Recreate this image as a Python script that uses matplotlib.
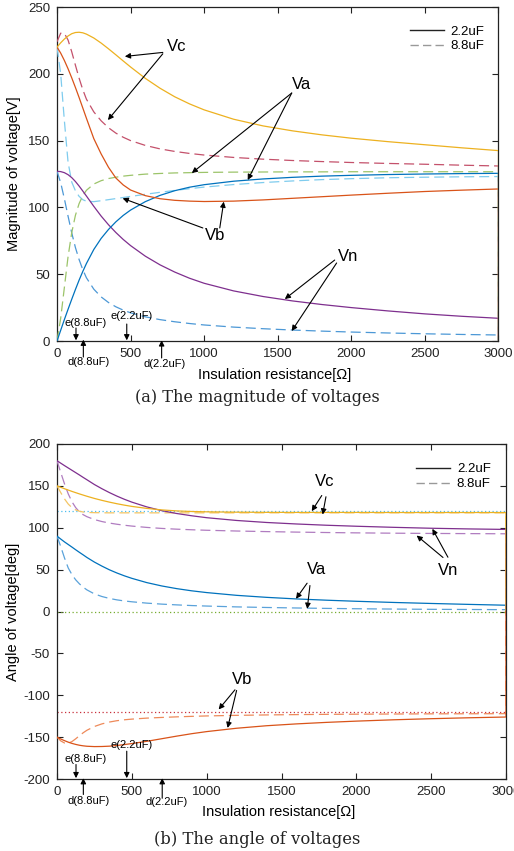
import matplotlib
matplotlib.use("Agg")
import matplotlib.pyplot as plt
from matplotlib.lines import Line2D

plt.rcParams['font.family'] = ['Liberation Sans', 'DejaVu Sans']
plt.rcParams['axes.unicode_minus'] = False

# ---------------- data ----------------
resistance = [0, 25, 50, 75, 100, 125, 150, 175, 200, 250, 300, 350, 400, 450, 500,
              600, 700, 800, 900, 1000, 1200, 1400, 1600, 1800, 2000, 2250, 2500, 2750,
              3000, 3000]

# (a) magnitude [V]
mag_va_22 = [0, 8, 16, 23.7, 31.2, 38.5, 45.5, 52, 58, 68.5, 76.8, 83.5, 89.2, 94, 98,
             104.3, 109, 112.5, 115.1, 117, 119.6, 121.3, 122.5, 123.4, 124, 124.6, 125,
             125.3, 125.5, 0]
mag_vb_22 = [220, 215.5, 210, 203.8, 197, 189.8, 182.3, 174.5, 166.7, 151.5, 140, 130,
             122, 116.8, 113, 108.8, 106.5, 105.3, 104.7, 104.4, 104.7, 105.6, 106.8, 108,
             109.2, 110.6, 111.9, 112.9, 113.8, 0]
mag_vc_22 = [220, 223.2, 226, 228.3, 230, 230.9, 231.1, 230.7, 229.7, 226.8, 223, 218.7,
             214.2, 209.6, 205.1, 196.6, 189.2, 182.8, 177.5, 173, 166, 161, 157.3, 154.3,
             151.8, 149.2, 146.9, 144.6, 142.5, 0]
mag_vn_22 = [127, 126.8, 126, 124.5, 122.3, 119.4, 116, 112.3, 108.5, 100.8, 93.5, 87,
             81.2, 76, 71.4, 63.5, 57, 51.6, 47, 43.2, 37.5, 33.3, 30, 27.3, 25, 22.5,
             20.3, 18.5, 17, 0]
mag_va_88 = [0, 17, 40, 63, 81, 94, 102.8, 108.7, 112.8, 117.5, 120, 121.6, 122.6, 123.4,
             124, 124.9, 125.4, 125.8, 126, 126.2, 126.4, 126.5, 126.6, 126.6, 126.7, 126.7,
             126.7, 126.7, 126.7, 0]
mag_vb_88 = [220, 200, 165, 134, 119, 112.5, 108.3, 105.8, 104.6, 104.3, 105, 105.8, 106.6,
             107.4, 108.2, 109.8, 111.3, 112.7, 114, 115.2, 117.1, 118.6, 119.8, 120.8,
             121.5, 122.2, 122.6, 122.9, 123.1, 0]
mag_vc_88 = [224, 230.4, 230.3, 225.3, 216.5, 206.5, 196.8, 188.2, 181, 171.5, 164.8,
             159.6, 155.6, 152.5, 150, 146.4, 143.8, 141.9, 140.4, 139.2, 137.4, 136.1,
             135.1, 134.3, 133.6, 132.9, 132.3, 131.6, 131, 0]
mag_vn_88 = [127, 118.5, 106.5, 93.5, 81, 70, 61, 53.5, 47.3, 38.8, 33, 28.8, 25.6, 23.1,
             21.1, 18.1, 16, 14.4, 13.1, 12, 10.4, 9.2, 8.2, 7.4, 6.7, 6, 5.4, 4.9, 4.5, 0]

# (b) angle [deg]
ang_va_22 = [90, 86.5, 83.1, 80, 76.9, 73.7, 70.6, 67.6, 64.5, 59, 54.2, 49.8, 46, 42.6,
             39.6, 34.5, 30.5, 27.3, 24.7, 22.6, 19.3, 16.9, 15, 13.5, 12.2, 10.8, 9.6,
             8.5, 7.5, 0]
ang_vb_22 = [-150, -152.2, -154.2, -156, -157.5, -158.7, -159.7, -160.4, -160.9, -161.3,
             -161.2, -160.8, -160, -158.9, -157.7, -155, -151.9, -148.8, -145.9, -143.4,
             -139.4, -136.4, -134.2, -132.4, -130.9, -129.3, -128, -126.9, -126, 0]
ang_vc_22 = [150, 148.3, 146.6, 145, 143.4, 141.9, 140.4, 139, 137.6, 135, 132.7, 130.6,
             128.7, 127, 125.5, 123.1, 121.3, 120.1, 119.4, 119, 118.6, 118.4, 118.3, 118.3,
             118.3, 118.2, 118.2, 118.2, 118.2, 0]
ang_vn_22 = [180, 177.1, 174.2, 171.4, 168.6, 165.8, 163, 160.1, 157.3, 151.6, 146.6, 142,
             137.8, 134, 130.6, 124.9, 120.4, 117, 114.3, 112, 108.7, 106.3, 104.5, 103,
             101.8, 100.5, 99.4, 98.6, 98, 0]
ang_va_88 = [90, 77.5, 64, 52, 44, 37.8, 33, 29, 25.8, 21, 17.9, 15.6, 13.9, 12.6, 11.6,
             10, 8.8, 7.9, 7.1, 6.5, 5.5, 4.8, 4.2, 3.7, 3.3, 2.9, 2.6, 2.4, 2.2, 0]
ang_vb_88 = [-150, -154.5, -157, -157.3, -155.3, -152, -148.3, -144.8, -141.8, -137.3,
             -134.2, -132, -130.4, -129.3, -128.5, -127.3, -126.5, -125.8, -125.2, -124.7,
             -124, -123.5, -123.1, -122.8, -122.6, -122.4, -122.2, -122.1, -122, 0]
ang_vc_88 = [150, 142, 134.5, 128.3, 124, 121.3, 119.7, 118.8, 118.3, 118, 117.9, 117.8,
             117.8, 117.8, 117.8, 117.8, 117.8, 117.8, 117.8, 117.8, 117.8, 117.8, 117.8,
             117.8, 117.8, 117.8, 117.8, 117.8, 117.8, 0]
ang_vn_88 = [180, 166, 152.5, 140.5, 131, 124, 119, 115.6, 113.2, 109.8, 107.4, 105.6,
             104.2, 103, 102, 100.4, 99.2, 98.3, 97.6, 97, 96.1, 95.4, 94.8, 94.3, 93.9,
             93.5, 93.2, 93, 92.8, 0]

ref_angles = [120, 0, -120]

x_ticks = [0, 500, 1000, 1500, 2000, 2500, 3000]
mag_ticks = [0, 50, 100, 150, 200, 250]
ang_ticks = [-200, -150, -100, -50, 0, 50, 100, 150, 200]

cap_labels = ['2.2uF', '8.8uF']
marker_labels = ['e(8.8uF)', 'e(2.2uF)', 'd(8.8uF)', 'd(2.2uF)']
marker_x = [129, 474, 179, 711]

# ---------------- styling ----------------
C_BLUE, C_RED, C_YEL, C_PUR = '#0072BD', '#D95319', '#EDB120', '#7E2F8E'
DASH = (0, (8, 4))
LW = 0.9
ZL = 3

fig = plt.figure(figsize=(5.14, 8.51), dpi=100)
ax1 = fig.add_axes([57/514, 1-341/851, 441.5/514, 334/851])
ax2 = fig.add_axes([57/514, 1-779/851, 449/514, 335/851])

arrow_kw = dict(arrowstyle='-|>', color='black', lw=0.8, mutation_scale=8,
                shrinkA=0, shrinkB=0)


def style_axes(ax, yticks, ylim):
    ax.set_xlim(0, 3000)
    ax.set_ylim(*ylim)
    ax.set_xticks(x_ticks)
    ax.set_yticks(yticks)
    ax.tick_params(direction='in', length=4, width=0.8, top=True, right=True,
                   labelsize=9.5, pad=5, colors='#222222')
    for s in ax.spines.values():
        s.set_linewidth(0.9)
        s.set_color('#222222')


def arrow(ax, tip, start):
    ax.annotate('', xy=tip, xytext=start, arrowprops=arrow_kw, annotation_clip=False)


# ---------------- (a) magnitude ----------------
ax1.plot(resistance, mag_vn_88, color='#4C98D6', lw=LW, ls=DASH, zorder=ZL)
ax1.plot(resistance, mag_vb_88, color='#7FCCEE', lw=LW, ls=DASH, zorder=ZL)
ax1.plot(resistance, mag_va_88, color='#9CC46A', lw=LW, ls=DASH, zorder=ZL)
ax1.plot(resistance, mag_vc_88, color='#C4516B', lw=LW, ls=DASH, zorder=ZL)
ax1.plot(resistance, mag_vn_22, color=C_PUR, lw=LW, zorder=ZL)
ax1.plot(resistance, mag_va_22, color=C_BLUE, lw=LW, zorder=ZL)
ax1.plot(resistance, mag_vb_22, color=C_RED, lw=LW, zorder=ZL)
ax1.plot(resistance, mag_vc_22, color=C_YEL, lw=LW, zorder=ZL)
style_axes(ax1, mag_ticks, (0, 250))
ax1.set_xlabel('Insulation resistance[Ω]', fontsize=10.5)
ax1.set_ylabel('Magnitude of voltage[V]', fontsize=10.5)
ax1.xaxis.set_label_coords(0.494, -0.08)
ax1.yaxis.set_label_coords(-0.082, 0.5)

leg_handles = [Line2D([], [], color='#222222', lw=1.0),
               Line2D([], [], color='#999999', lw=1.0, ls=(0, (6, 3)))]
ax1.legend(leg_handles, cap_labels, loc='upper right', bbox_to_anchor=(0.968, 0.945),
           frameon=False, fontsize=9.5, handlelength=2.6, handletextpad=0.5,
           labelspacing=0.2, borderaxespad=0, borderpad=0)

ax1.text(814, 220.8, 'Vc', fontsize=12, ha='center', va='center')
arrow(ax1, (461, 213), (719, 216))
arrow(ax1, (346, 165.4), (719, 215))
ax1.text(1663, 192, 'Va', fontsize=12, ha='center', va='center')
arrow(ax1, (916, 125.7), (1595, 185.6))
arrow(ax1, (1296, 120.5), (1595, 185.6))
ax1.text(1072, 78.6, 'Vb', fontsize=12, ha='center', va='center')
arrow(ax1, (446, 106.8), (991, 84.6))
arrow(ax1, (1133, 104.3), (1106, 84.6))
ax1.text(1975, 63.6, 'Vn', fontsize=12, ha='center', va='center')
arrow(ax1, (1548, 31.4), (1887, 60.6))
arrow(ax1, (1595, 7.5), (1900, 58.4))

# markers (a)
ax1.text(197, 13.5, marker_labels[0], fontsize=8, ha='center', va='center')
arrow(ax1, (marker_x[0], 0.5), (marker_x[0], 9.7))
ax1.text(510, 18.7, marker_labels[1], fontsize=8, ha='center', va='center')
arrow(ax1, (marker_x[1], 0.5), (marker_x[1], 12.7))
ax1.text(217, -15.7, marker_labels[2], fontsize=8, ha='center', va='center')
arrow(ax1, (marker_x[2], 1.0), (marker_x[2], -12))
ax1.text(734, -17.2, marker_labels[3], fontsize=8, ha='center', va='center')
arrow(ax1, (marker_x[3], 0.5), (marker_x[3], -12.7))

# ---------------- (b) angle ----------------
ax2.axhline(ref_angles[0], color='#4DBEEE', lw=0.9, ls=(0, (1, 2)))
ax2.axhline(ref_angles[1], color='#77AC30', lw=0.9, ls=(0, (1, 2)))
ax2.axhline(ref_angles[2], color='#C8303C', lw=0.9, ls=(0, (1, 2)))
ax2.plot(resistance, ang_vn_88, color='#B07CC0', lw=LW, ls=DASH, zorder=ZL)
ax2.plot(resistance, ang_va_88, color='#5AA2DA', lw=LW, ls=DASH, zorder=ZL)
ax2.plot(resistance, ang_vb_88, color='#EE8A5A', lw=LW, ls=DASH, zorder=ZL)
ax2.plot(resistance, ang_vc_88, color='#F3C565', lw=LW, ls=DASH, zorder=ZL)
ax2.plot(resistance, ang_va_22, color=C_BLUE, lw=LW, zorder=ZL)
ax2.plot(resistance, ang_vn_22, color=C_PUR, lw=LW, zorder=ZL)
ax2.plot(resistance, ang_vc_22, color=C_YEL, lw=LW, zorder=ZL)
ax2.plot(resistance, ang_vb_22, color=C_RED, lw=LW, zorder=ZL)
style_axes(ax2, ang_ticks, (-200, 200))
ax2.set_xlabel('Insulation resistance[Ω]', fontsize=10.5)
ax2.set_ylabel('Angle of voltage[deg]', fontsize=10.5)
ax2.xaxis.set_label_coords(0.494, -0.078)
ax2.yaxis.set_label_coords(-0.082, 0.5)
ax2.legend(leg_handles, cap_labels, loc='upper right', bbox_to_anchor=(0.966, 0.943),
           frameon=False, fontsize=9.5, handlelength=2.6, handletextpad=0.5,
           labelspacing=0.2, borderaxespad=0, borderpad=0)

ax2.text(1791, 155, 'Vc', fontsize=12, ha='center', va='center')
arrow(ax2, (1702, 119.8), (1769, 138.5))
arrow(ax2, (1775, 115.8), (1797, 137))
ax2.text(2612, 49.5, 'Vn', fontsize=12, ha='center', va='center')
arrow(ax2, (2403, 90.7), (2579, 64.5))
arrow(ax2, (2508, 98.7), (2612, 64.8))
ax2.text(1731, 50, 'Va', fontsize=12, ha='center', va='center')
arrow(ax2, (1597, 15.2), (1671, 33.8))
arrow(ax2, (1672, 3.2), (1690, 31))
ax2.text(1236, -81, 'Vb', fontsize=12, ha='center', va='center')
arrow(ax2, (1080, -117), (1189, -93.5))
arrow(ax2, (1140, -139), (1200, -94.3))

# markers (b)
ax2.text(194, -176.7, marker_labels[0], fontsize=8, ha='center', va='center')
arrow(ax2, (127, -199), (127, -182.7))
ax2.text(501, -160, marker_labels[1], fontsize=8, ha='center', va='center')
arrow(ax2, (466, -199), (466, -166.8))
ax2.text(214, -225.7, marker_labels[2], fontsize=8, ha='center', va='center')
arrow(ax2, (176, -199), (176, -218.5))
ax2.text(735, -228, marker_labels[3], fontsize=8, ha='center', va='center')
arrow(ax2, (703, -199), (703, -223))

# captions
fig.text(0.5, 1-398/851, '(a) The magnitude of voltages', fontsize=11.6,
         family='DejaVu Serif', ha='center', va='center', color='#222222')
fig.text(0.5, 1-839/851, '(b) The angle of voltages', fontsize=11.8,
         family='DejaVu Serif', ha='center', va='center', color='#222222')

fig.savefig('out.png', dpi=100)
